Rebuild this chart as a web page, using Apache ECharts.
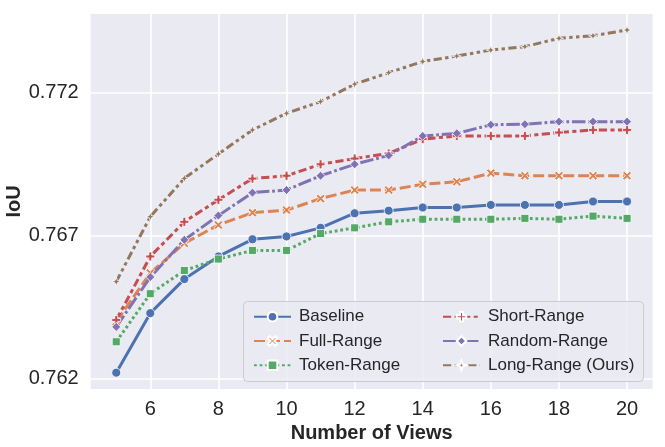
<!DOCTYPE html>
<html>
<head>
<meta charset="utf-8">
<title>IoU vs Number of Views</title>
<script src="https://cdn.jsdelivr.net/npm/echarts@6.0.0/dist/echarts.min.js"></script>
<style>
  html, body { margin: 0; padding: 0; background: #fff; }
  #chart { width: 665px; height: 447px; }
</style>
</head>
<body>
<div id="chart"></div>
<script>
// data
const views = [5, 6, 7, 8, 9, 10, 11, 12, 13, 14, 15, 16, 17, 18, 19, 20];
const xTicks = [6, 8, 10, 12, 14, 16, 18, 20];
const yTicks = [0.762, 0.767, 0.772];

const baseline = [0.76222, 0.76430, 0.76549, 0.76628, 0.76688, 0.76698, 0.76728, 0.76779,
                  0.76788, 0.76799, 0.76799, 0.76808, 0.76808, 0.76808, 0.76820, 0.76820];
const fullRange = [0.76400, 0.76570, 0.76674, 0.76738, 0.76781, 0.76790, 0.76830, 0.76860,
                   0.76860, 0.76880, 0.76889, 0.76919, 0.76910, 0.76910, 0.76910, 0.76910];
const tokenRange = [0.76330, 0.76498, 0.76579, 0.76619, 0.76649, 0.76649, 0.76708, 0.76728,
                    0.76749, 0.76758, 0.76758, 0.76758, 0.76761, 0.76758, 0.76769, 0.76761];
const shortRange = [0.76406, 0.76628, 0.76749, 0.76826, 0.76900, 0.76910, 0.76950, 0.76970,
                    0.76988, 0.77038, 0.77049, 0.77049, 0.77049, 0.77061, 0.77070, 0.77070];
const randomRange = [0.76382, 0.76556, 0.76686, 0.76771, 0.76851, 0.76860, 0.76910, 0.76950,
                     0.76981, 0.77049, 0.77058, 0.77088, 0.77090, 0.77099, 0.77099, 0.77099];
const longRange = [0.76540, 0.76767, 0.76901, 0.76986, 0.77070, 0.77128, 0.77169, 0.77230,
                   0.77270, 0.77309, 0.77328, 0.77349, 0.77361, 0.77390, 0.77399, 0.77419];

// seaborn-like markers
const SYM_X = 'path://M2,0 L5,3 L8,0 L10,2 L7,5 L10,8 L8,10 L5,7 L2,10 L0,8 L3,5 L0,2 Z';
const SYM_P = 'path://M3.4,0 H6.6 V3.4 H10 V6.6 H6.6 V10 H3.4 V6.6 H0 V3.4 H3.4 Z';
const SYM_STAR = 'path://M5,0 L6.3,3.7 L10,5 L6.3,6.3 L5,10 L3.7,6.3 L0,5 L3.7,3.7 Z';

const FONT = '"Liberation Sans", Arial, Helvetica, sans-serif';
const TEXT = '#262626';

function makeSeries(name, values, color, symbol, size, dash) {
    return {
        name: name,
        type: 'line',
        data: views.map((v, i) => [v, values[i]]),
        symbol: symbol,
        symbolSize: size,
        showSymbol: true,
        lineStyle: { color: color, width: 3, type: dash, cap: 'butt' },
        itemStyle: { color: color, borderColor: '#ffffff', borderWidth: 0.8 },
        emphasis: { disabled: true },
        animation: false
    };
}

const series = [
    makeSeries('Baseline', baseline, '#4C72B0', 'circle', 9, 'solid'),
    makeSeries('Full-Range', fullRange, '#DD8452', SYM_X, 9, [11, 4]),
    makeSeries('Token-Range', tokenRange, '#55A868', 'rect', 8, [2.8, 2.8]),
    makeSeries('Short-Range', shortRange, '#C44E52', SYM_P, 9, [8.2, 3.4, 4.1, 3.4]),
    makeSeries('Random-Range', randomRange, '#8172B3', 'diamond', 9, [13.5, 2.8, 2.8, 2.8]),
    makeSeries('Long-Range (Ours)', longRange, '#937860', SYM_STAR, 9, [8.2, 3.4, 3.4, 3.4, 3.4, 3.4])
];

const legendCommon = {
    orient: 'vertical',
    itemWidth: 37,
    itemHeight: 12,
    itemGap: 6.3,
    selectedMode: false,
    lineStyle: { width: 2 },
    textStyle: { fontFamily: FONT, fontSize: 17, color: TEXT, lineHeight: 18, padding: [0, 0, 0, 3] }
};

const chart = echarts.init(document.getElementById('chart'), null, { renderer: 'canvas' });

chart.setOption({
    animation: false,
    backgroundColor: '#ffffff',
    grid: {
        left: 90.7,
        right: 12.4,
        top: 14,
        bottom: 58,
        show: true,
        backgroundColor: '#EAEAF2',
        borderWidth: 0,
        outerBoundsMode: 'none'
    },
    xAxis: {
        type: 'value',
        min: 4.25,
        max: 20.75,
        name: 'Number of Views',
        nameLocation: 'middle',
        nameGap: 34,
        nameMoveOverlap: false,
        nameTextStyle: { fontFamily: FONT, fontSize: 20, fontWeight: 'bold', color: TEXT },
        axisLine: { show: false },
        axisTick: { show: false, customValues: xTicks },
        axisLabel: { customValues: xTicks, fontFamily: FONT, fontSize: 20, color: TEXT, margin: 10 },
        splitLine: { show: true, lineStyle: { color: '#ffffff', width: 1.6 } }
    },
    yAxis: {
        type: 'value',
        min: 0.76165,
        max: 0.77475,
        name: 'IoU',
        nameLocation: 'middle',
        nameGap: 66,
        nameMoveOverlap: false,
        nameTextStyle: { fontFamily: FONT, fontSize: 20, fontWeight: 'bold', color: TEXT },
        axisLine: { show: false },
        axisTick: { show: false, customValues: yTicks },
        axisLabel: {
            customValues: yTicks,
            fontFamily: FONT, fontSize: 20, color: TEXT, margin: 12,
            formatter: v => v.toFixed(3)
        },
        splitLine: { show: true, lineStyle: { color: '#ffffff', width: 1.6 } }
    },
    graphic: [{
        type: 'rect',
        left: 243,
        top: 301,
        shape: { width: 400, height: 80, r: 4 },
        style: { fill: 'rgba(234,234,242,0.8)', stroke: '#cccccc', lineWidth: 1 },
        z: 50
    }],
    legend: [
        Object.assign({ left: 248, top: 302.7, data: ['Baseline', 'Full-Range', 'Token-Range'], z: 60 }, legendCommon),
        Object.assign({ left: 437, top: 302.7, data: ['Short-Range', 'Random-Range', 'Long-Range (Ours)'], z: 60 }, legendCommon)
    ],
    series: series
});
</script>
</body>
</html>
